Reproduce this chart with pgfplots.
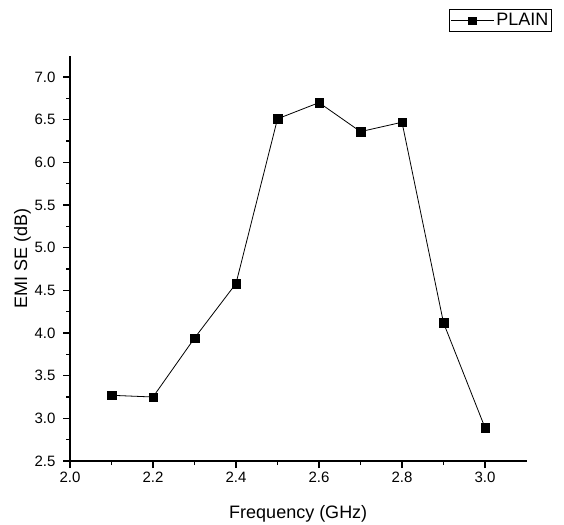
\documentclass[border=0pt]{standalone}
\usepackage{fontspec}
\setmainfont{Liberation Sans}
\usepackage{pgfplots}
\pgfplotsset{compat=1.18}
\begin{document}
\begin{tikzpicture}
\path[use as bounding box] (-70pt,-63pt) rectangle (494pt,461pt);
\begin{axis}[
  at={(0,0)}, anchor=south west,
  scale only axis, width=456.5pt, height=405.3pt,
  xmin=2.0, xmax=3.1, ymin=2.5, ymax=7.25,
  axis x line*=bottom, axis y line*=left,
  axis line style={line width=1.1pt},
  tick align=outside,
  major tick length=7pt, minor tick length=4pt,
  every tick/.style={black, line width=1.1pt},
  xtick={2.0,2.2,...,3.01}, minor x tick num=1,
  ytick={2.5,3.0,...,7.01}, minor y tick num=1,
  /pgf/number format/assume math mode=true,
  /pgf/number format/.cd, fixed, fixed zerofill, precision=1, /pgfplots/.cd,
  tick label style={font=\fontsize{15}{18}\selectfont},
  yticklabel style={xshift=-4pt},
  xlabel={Frequency (GHz)}, ylabel={EMI SE (dB)},
  label style={font=\fontsize{18}{21}\selectfont},
  xlabel style={at={(axis description cs:0.5,-0.1295)}, anchor=center},
  ylabel style={at={(axis description cs:-0.104,0.5)}, anchor=center},
  legend style={at={(axis description cs:1.0552,1.1145)}, anchor=north east,
    font=\fontsize{18}{21}\selectfont, draw=black, line width=0.6pt,
    inner xsep=1pt, inner ysep=2pt},
  legend image code/.code={\draw[mark repeat=2,mark phase=2,#1,mark size=3.8pt]
    plot coordinates {(0pt,0pt) (21.5pt,0pt) (43pt,0pt)};},
  legend cell align=left,
  clip=false,
]
\addplot[black, line width=0.8pt, mark=square*, mark size=4.3pt,
  mark options={solid, fill=black, line width=0.4pt}]
  coordinates {
  (2.1,3.27) (2.2,3.25) (2.3,3.94) (2.4,4.58) (2.5,6.51)
  (2.6,6.70) (2.7,6.36) (2.8,6.47) (2.9,4.12) (3.0,2.89)
  };
\addlegendentry{PLAIN}
\end{axis}
\end{tikzpicture}
\end{document}
